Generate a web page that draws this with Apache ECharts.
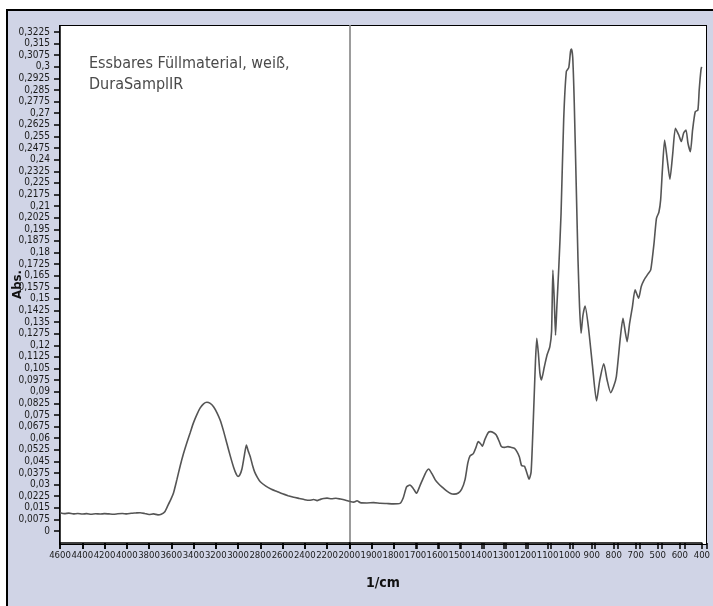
<!DOCTYPE html>
<html>
<head>
<meta charset="utf-8">
<script src="https://cdn.jsdelivr.net/npm/echarts@6/dist/echarts.min.js"></script>
<style>
  html, body { margin: 0; padding: 0; background: #fff; overflow: hidden; }
  /* lavender frame behind the chart */
  #frame {
    position: absolute; left: 6px; top: 9px; width: 720px; height: 610px;
    background: #d0d4e6; border-left: 2px solid #000; border-top: 2px solid #000;
  }
  /* white plot area with its black border */
  #plot {
    position: absolute; left: 59px; top: 25px; width: 648px; height: 519.5px; box-sizing: border-box;
    background: #fff; border: 1.5px solid #000;
  }
  #main { position: absolute; left: 0; top: 0; width: 713px; height: 606px; }
</style>
</head>
<body>
<div id="frame"></div>
<div id="plot"></div>
<div id="main"></div>
<script>
  // spectrum (wavenumber in 1/cm, absorbance)
  const wavenumbers = [
    4600, 4560, 4520, 4480, 4440, 4400, 4360, 4320, 4280, 4240, 4200, 4160, 4120, 4080, 4040, 4000,
    3960, 3920, 3880, 3840, 3800, 3760, 3720, 3690, 3660, 3630, 3600, 3580, 3550, 3520, 3490, 3460,
    3430, 3400, 3370, 3340, 3310, 3280, 3250, 3220, 3190, 3160, 3130, 3100, 3070, 3040, 3015, 3000,
    2985, 2965, 2945, 2925, 2910, 2890, 2870, 2850, 2825, 2800, 2750, 2700, 2650, 2600, 2550, 2500,
    2450, 2400, 2360, 2320, 2290, 2260, 2230, 2200, 2160, 2120, 2080, 2040, 2000,
    1980, 1965, 1950, 1920, 1890, 1860, 1830, 1800, 1770, 1755, 1740, 1725, 1710, 1695, 1680, 1665,
    1650, 1640, 1625, 1610, 1595, 1580, 1560, 1540, 1525, 1505, 1490, 1475, 1462, 1452, 1437, 1425,
    1415, 1405, 1396, 1385, 1370, 1360, 1345, 1333, 1320, 1310, 1295, 1280, 1265, 1250, 1238, 1228,
    1218, 1205, 1193, 1184, 1175, 1168, 1161, 1155, 1149, 1142, 1135, 1128, 1115, 1102, 1090, 1082,
    1076, 1070, 1064, 1058, 1049, 1039, 1027, 1015, 1004, 996, 992, 986, 979, 970, 962, 955,
    948, 940, 930, 915, 896, 878, 863, 845, 830, 814, 800, 788, 770, 758, 748, 739,
    728, 715, 703, 687, 675, 662, 645, 632, 617, 606, 595, 587, 579, 569, 557, 545,
    532, 520, 505, 493, 483, 472, 463, 452, 442, 430, 418, 412, 404, 401
  ]
  const absorbance = [
    0.0118, 0.0112, 0.0115, 0.0110, 0.0113, 0.0109, 0.0112, 0.0108, 0.0111, 0.0109, 0.0112, 0.0110, 0.0108, 0.0111, 0.0113, 0.0110,
    0.0114, 0.0116, 0.0118, 0.0113, 0.0106, 0.0110, 0.0104, 0.0108, 0.0122, 0.0165, 0.0210, 0.0245, 0.0330, 0.0420, 0.0500, 0.0570,
    0.0635, 0.0700, 0.0752, 0.0795, 0.0822, 0.0832, 0.0825, 0.0803, 0.0765, 0.0715, 0.0645, 0.0565, 0.0485, 0.0412, 0.0365, 0.0352,
    0.0360, 0.0400, 0.0480, 0.0555, 0.0520, 0.0480, 0.0425, 0.0380, 0.0345, 0.0318, 0.0290, 0.0270, 0.0255, 0.0240, 0.0228, 0.0218,
    0.0210, 0.0202, 0.0198, 0.0203, 0.0196, 0.0204, 0.0210, 0.0212, 0.0208, 0.0211, 0.0206, 0.0200, 0.0192,
    0.0186, 0.0195, 0.0183, 0.0181, 0.0183, 0.0179, 0.0177, 0.0175, 0.0178, 0.0215, 0.0285, 0.0297, 0.0275, 0.0244, 0.0290, 0.0340,
    0.0385, 0.0400, 0.0370, 0.0330, 0.0305, 0.0285, 0.0260, 0.0242, 0.0238, 0.0245, 0.0270, 0.0330, 0.0440, 0.0485, 0.0500, 0.0540,
    0.0577, 0.0565, 0.0548, 0.0590, 0.0635, 0.0642, 0.0635, 0.0620, 0.0580, 0.0546, 0.0540, 0.0545, 0.0540, 0.0533, 0.0510, 0.0478,
    0.0422, 0.0418, 0.0370, 0.0334, 0.0380, 0.0600, 0.0868, 0.1100, 0.1245, 0.1150, 0.1020, 0.0976, 0.1060, 0.1140, 0.1190, 0.1290,
    0.1687, 0.1500, 0.1265, 0.1450, 0.1710, 0.2050, 0.2660, 0.2970, 0.2995, 0.3100, 0.3115, 0.3060, 0.2765, 0.2226, 0.1750, 0.1450,
    0.1278, 0.1390, 0.1454, 0.1320, 0.1062, 0.0840, 0.0976, 0.1080, 0.0976, 0.0894, 0.0935, 0.0997, 0.1250, 0.1375, 0.1290, 0.1224,
    0.1340, 0.1450, 0.1558, 0.1504, 0.1580, 0.1623, 0.1660, 0.1687, 0.1860, 0.2021, 0.2060, 0.2140, 0.2334, 0.2527, 0.2400, 0.2273,
    0.2441, 0.2603, 0.2560, 0.2517, 0.2571, 0.2592, 0.2506, 0.2452, 0.2592, 0.2710, 0.2721, 0.2850, 0.2980, 0.3000
  ]

  // axis ticks
  const xLabelPosRight = [1900, 1800, 1700, 1600, 1500, 1400, 1300, 1200, 1100, 1000, 900, 800, 700, 600, 500, 400]
  // as printed in the original (500 and 600 swapped)
  const xLabelsRight = ['1900', '1800', '1700', '1600', '1500', '1400', '1300', '1200', '1100', '1000', '900', '800', '700', '500', '600', '400']
  const yTicks = [
    0, 0.0075, 0.015, 0.0225, 0.03, 0.0375, 0.045, 0.0525, 0.06, 0.0675, 0.075, 0.0825, 0.09, 0.0975, 0.105,
    0.1125, 0.12, 0.1275, 0.135, 0.1425, 0.15, 0.1575, 0.165, 0.1725, 0.18, 0.1875, 0.195, 0.2025, 0.21,
    0.2175, 0.225, 0.2325, 0.24, 0.2475, 0.255, 0.2625, 0.27, 0.2775, 0.285, 0.2925, 0.3, 0.3075, 0.315, 0.3225
  ]

  const FONT = "'Liberation Sans Narrow', 'DejaVu Sans Condensed', sans-serif"
  const Y_MIN = -0.0078
  const Y_MAX = 0.3264

  const points = wavenumbers.map((w, i) => [w, absorbance[i]])
  const leftData = points.filter(p => p[0] >= 2000)
  const rightData = points.filter(p => p[0] <= 2000)

  const chart = echarts.init(document.getElementById('main'))

  const blackLine = () => ({ show: true, onZero: false, lineStyle: { color: '#000', width: 1.5 } })
  const tickLabel = () => ({
    show: true, showMinLabel: true, showMaxLabel: true, hideOverlap: false,
    color: '#1a1a1a', fontSize: 9.5, fontFamily: FONT
  })
  const tickStyle = () => ({ show: true, length: 6, lineStyle: { color: '#000', width: 1.5 } })
  // thin strip under the plot whose split lines serve as the x ticks
  const tickStripAxis = (grid, min, max, interval) => ({
    type: 'value', gridIndex: grid, min: min, max: max, interval: interval, inverse: true,
    axisLine: { show: false }, axisTick: { show: false }, axisLabel: { show: false },
    splitLine: { show: true, lineStyle: { color: '#000', width: 1.5 } }
  })
  const hiddenY = grid => ({ type: 'value', gridIndex: grid, show: false, splitLine: { show: false } })

  chart.setOption({
    animation: false,
    backgroundColor: 'transparent',
    title: {
      text: 'Essbares Füllmaterial, weiß,\nDuraSamplIR',
      left: 84,
      top: 48,
      textStyle: { fontSize: 16, lineHeight: 21, color: '#4a4a4a', fontWeight: 'normal', fontFamily: FONT }
    },
    graphic: [
      {
        type: 'text', left: 366, top: 576,
        style: { text: '1/cm', fontSize: 14, fontWeight: 'bold', fill: '#111', fontFamily: FONT }
      }
    ],
    grid: [
      { left: 60, top: 26, width: 289.3, height: 517 },
      { left: 349.3, top: 26, width: 357.4, height: 517 },
      { left: 60, top: 543, width: 289.3, height: 6 },
      { left: 349.3, top: 543, width: 357.4, height: 6 }
    ],
    xAxis: [
      {
        type: 'value', gridIndex: 0, min: 2000, max: 4600, interval: 200, inverse: true,
        axisLine: blackLine(),
        axisTick: tickStyle(),
        axisLabel: { margin: 8, ...tickLabel(), formatter: v => String(v) },
        splitLine: { show: false }
      },
      {
        type: 'value', gridIndex: 1, min: 400, max: 2000, interval: 100, inverse: true,
        axisLine: blackLine(),
        axisTick: tickStyle(),
        axisLabel: {
          margin: 8, ...tickLabel(), showMaxLabel: false,
          formatter: v => {
            const i = xLabelPosRight.indexOf(v)
            return i < 0 ? '' : xLabelsRight[i]
          }
        },
        splitLine: { show: false }
      },
      tickStripAxis(2, 2000, 4600, 200),
      tickStripAxis(3, 400, 2000, 100)
    ],
    yAxis: [
      {
        type: 'value', gridIndex: 0, min: Y_MIN, max: Y_MAX,
        name: 'Abs.', nameLocation: 'middle', nameGap: 36, nameMoveOverlap: false,
        nameTextStyle: { fontSize: 13, fontWeight: 'bold', color: '#111', fontFamily: FONT },
        axisLine: blackLine(),
        axisTick: { customValues: yTicks, ...tickStyle() },
        axisLabel: {
          customValues: yTicks, margin: 10, ...tickLabel(), fontSize: 10,
          formatter: v => String(v).replace('.', ',')
        },
        splitLine: { show: false }
      },
      {
        type: 'value', gridIndex: 1, min: Y_MIN, max: Y_MAX,
        axisLine: { show: true, onZero: false, lineStyle: { color: '#9c9c9c', width: 2 } },
        axisTick: { show: false }, axisLabel: { show: false }, splitLine: { show: false }
      },
      hiddenY(2),
      hiddenY(3)
    ],
    series: [
      {
        type: 'line', xAxisIndex: 0, yAxisIndex: 0, data: leftData,
        showSymbol: false, smooth: 0.2, lineStyle: { color: '#555', width: 1.6 }
      },
      {
        type: 'line', xAxisIndex: 1, yAxisIndex: 1, data: rightData,
        showSymbol: false, smooth: 0.2, lineStyle: { color: '#555', width: 1.6 }
      }
    ]
  })
</script>
</body>
</html>
